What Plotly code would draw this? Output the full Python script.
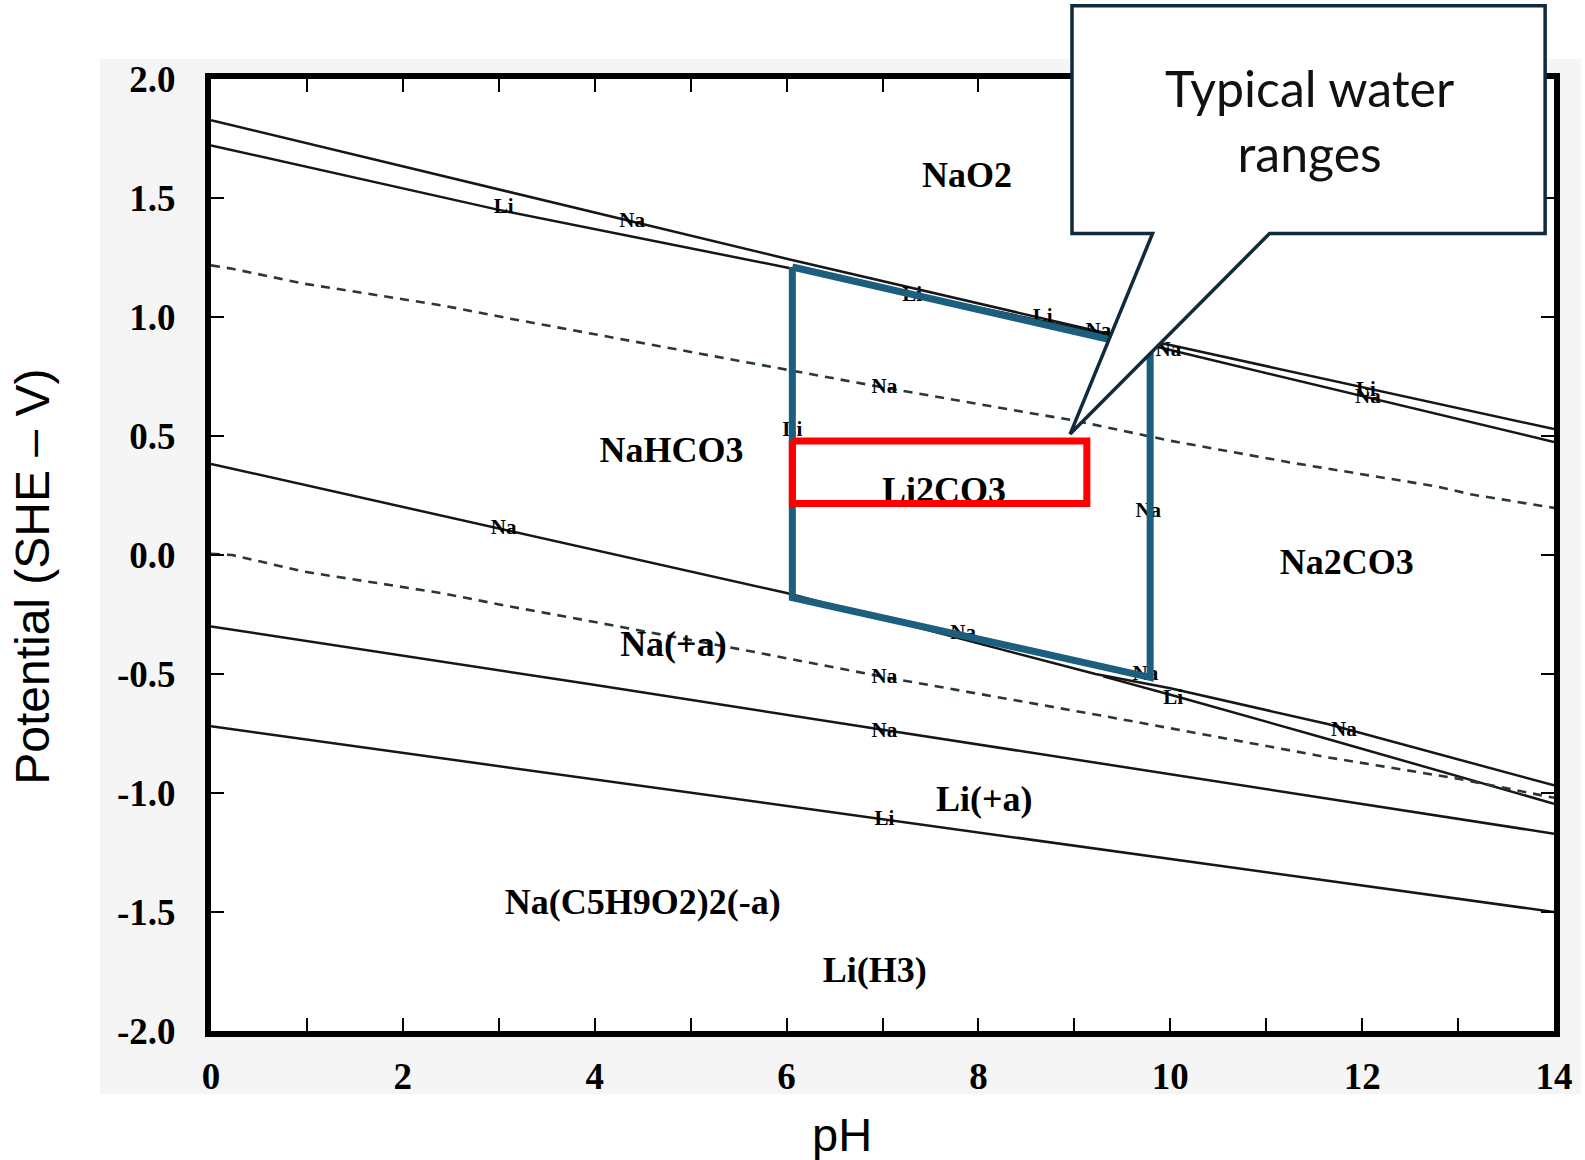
import plotly.graph_objects as go

# ---------------- data ----------------
# solid boundary lines
ph_A = [0, 3, 6, 9.3, 10, 14]
E_A = [1.827, 1.537, 1.245, 0.935, 0.882, 0.529]
ph_B = [0, 3, 6, 9.3, 10, 14]
E_B = [1.721, 1.45, 1.208, 0.93, 0.861, 0.475]
ph_D = [0, 3.04, 6.0, 9.22, 10.0, 11.64, 14]
E_D = [0.383, 0.108, -0.16, -0.50, -0.56, -0.71, -0.968]
ph_D2 = [9.3, 10.03, 11.64, 14]
E_D2 = [-0.51, -0.59, -0.773, -1.045]
ph_F = [0, 3.94, 7.02, 9.22, 14]
E_F = [-0.30, -0.542, -0.735, -0.873, -1.171]
ph_G = [0, 3.94, 7.02, 14]
E_G = [-0.72, -0.94, -1.11, -1.50]

# dashed (water) lines
ph_C = [0, 0.22, 0.97, 2.42, 3.12, 3.94, 6.03, 7.02, 8.2, 9.0, 10.0, 11.29, 12.78, 13.13, 14]
E_C = [1.217, 1.203, 1.14, 1.048, 0.993, 0.932, 0.777, 0.703, 0.62, 0.565, 0.48, 0.386, 0.288, 0.255, 0.198]
ph_E = [0, 0.22, 0.97, 2.4, 3.1, 3.94, 5.67, 7.02, 9.3, 11.64, 13.0, 14]
E_E = [0.005, 0.0, -0.07, -0.16, -0.215, -0.277, -0.408, -0.513, -0.676, -0.85, -0.94, -1.02]

# small species tags on the lines
tag_text = ["Li", "Na", "Li", "Li", "Na", "Na", "Li", "Na", "Na", "Li", "Na",
            "Na", "Na", "Na", "Li", "Na", "Na", "Na", "Li"]
tag_ph = [3.05, 4.39, 7.31, 8.67, 9.25, 9.98, 12.04, 12.06, 7.02, 6.06, 9.77,
          3.05, 7.84, 9.74, 10.03, 11.81, 7.02, 7.02, 7.02]
tag_E = [1.46, 1.40, 1.09, 0.995, 0.936, 0.858, 0.69, 0.66, 0.703, 0.522, 0.18,
         0.112, -0.332, -0.505, -0.606, -0.737, -0.517, -0.741, -1.113]

# region labels
reg_text = ["NaO2", "NaHCO3", "Li2CO3", "Na2CO3", "Na(+a)", "Li(+a)",
            "Na(C5H9O2)2(-a)", "Li(H3)"]
reg_ph = [7.88, 4.80, 7.64, 11.84, 4.82, 8.06, 4.50, 6.92]
reg_E = [1.582, 0.430, 0.262, -0.044, -0.387, -1.039, -1.471, -1.755]

# highlighted stability window (blue) and typical water range (red)
win_ph = [6.06, 6.06, 9.79, 9.79, 6.06]
win_E = [1.21, -0.179, -0.514, 0.866, 1.21]
water_ph = [6.06, 9.13, 9.13, 6.06, 6.06]
water_E = [0.479, 0.479, 0.216, 0.216, 0.479]

# axis ticks
x_tickvals = list(range(0, 15))
x_ticktext = [str(v) if v % 2 == 0 else "" for v in x_tickvals]
y_tickvals = [2.0, 1.5, 1.0, 0.5, 0.0, -0.5, -1.0, -1.5, -2.0]
y_ticktext = ["2.0", "1.5", "1.0", "0.5", "0.0", "-0.5", "-1.0", "-1.5", "-2.0"]

# ---------------- figure ----------------
fig = go.Figure()

solid = dict(color="#161616", width=2.5)
dashed = dict(color="#283838", width=2.6, dash="9px,7px")

for xs, ys in [(ph_A, E_A), (ph_B, E_B), (ph_D, E_D), (ph_D2, E_D2), (ph_F, E_F), (ph_G, E_G)]:
    fig.add_trace(go.Scatter(x=xs, y=ys, mode="lines", line=solid, hoverinfo="skip"))
for xs, ys in [(ph_C, E_C), (ph_E, E_E)]:
    fig.add_trace(go.Scatter(x=xs, y=ys, mode="lines", line=dashed, hoverinfo="skip"))

serif_b = dict(family="Liberation Serif, Times New Roman, serif", color="black", weight="bold")

fig.add_trace(go.Scatter(x=tag_ph, y=tag_E, text=tag_text, mode="text",
                         textposition="middle center",
                         textfont=dict(size=21, **serif_b), hoverinfo="skip"))
fig.add_trace(go.Scatter(x=reg_ph, y=reg_E, text=reg_text, mode="text",
                         textposition="middle center",
                         textfont=dict(size=36, **serif_b), hoverinfo="skip"))

fig.add_trace(go.Scatter(x=win_ph, y=win_E, mode="lines",
                         line=dict(color="#1b5e7e", width=7), hoverinfo="skip"))
fig.add_trace(go.Scatter(x=water_ph, y=water_E, mode="lines",
                         line=dict(color="#ff0000", width=7), hoverinfo="skip"))

axis_common = dict(
    ticks="inside", ticklen=13, tickwidth=2, tickcolor="black",
    showline=True, linewidth=6, linecolor="black", mirror="allticks",
    showgrid=False, zeroline=False,
    tickfont=dict(size=37, **serif_b),
)

fig.update_layout(
    width=1585, height=1160,
    margin=dict(l=211, r=19, t=79, b=129),
    paper_bgcolor="white", plot_bgcolor="white",
    showlegend=False,
    xaxis=dict(range=[0, 14], tickvals=x_tickvals, ticktext=x_ticktext,
               ticklabelstandoff=8, **axis_common),
    yaxis=dict(range=[-2, 2], tickvals=y_tickvals, ticktext=y_ticktext,
               ticklabelstandoff=22, **axis_common),
)

# grey panel behind the chart and white plotting area
fig.add_shape(type="rect", xref="paper", yref="paper", x0=-0.0827, x1=1.02, y0=-0.0665, y1=1.0211,
              fillcolor="#f5f5f5", line=dict(width=0), layer="below")
fig.add_shape(type="rect", xref="x", yref="y", x0=0, x1=14, y0=-2, y1=2,
              fillcolor="white", line=dict(width=0), layer="below")

# callout box (paper coordinates)
callout = [(0.6411, 1.0770), (0.9934, 1.0770), (0.9934, 0.8377), (0.7882, 0.8377),
           (0.6397, 0.6270), (0.7011, 0.8377), (0.6411, 0.8377)]
path = "M " + " L ".join(f"{x},{y}" for x, y in callout) + " Z"
fig.add_shape(type="path", xref="paper", yref="paper", path=path,
              fillcolor="white", line=dict(color="#0f2b3c", width=3.5), layer="above")
fig.add_annotation(xref="paper", yref="paper", x=0.8183, y=0.9560,
                   text="Typical water<br>ranges", showarrow=False,
                   xanchor="center", yanchor="middle", align="center",
                   font=dict(family="Lato, Open Sans, sans-serif", size=50, color="#111111"))

# axis titles
fig.add_annotation(xref="paper", yref="paper", x=-0.1335, y=0.4768,
                   text="Potential (SHE – V)", showarrow=False, textangle=-90,
                   xanchor="center", yanchor="middle",
                   font=dict(family="Liberation Sans, Arial, sans-serif", size=48, color="black"))
fig.add_annotation(xref="paper", yref="paper", x=0.4700, y=-0.1085,
                   text="pH", showarrow=False, xanchor="center", yanchor="middle",
                   font=dict(family="Liberation Sans, Arial, sans-serif", size=47, color="black"))

fig.write_html("out.html", config={"displayModeBar": False},
               post_script="document.body.style.margin='0';document.body.style.overflow='hidden';")
